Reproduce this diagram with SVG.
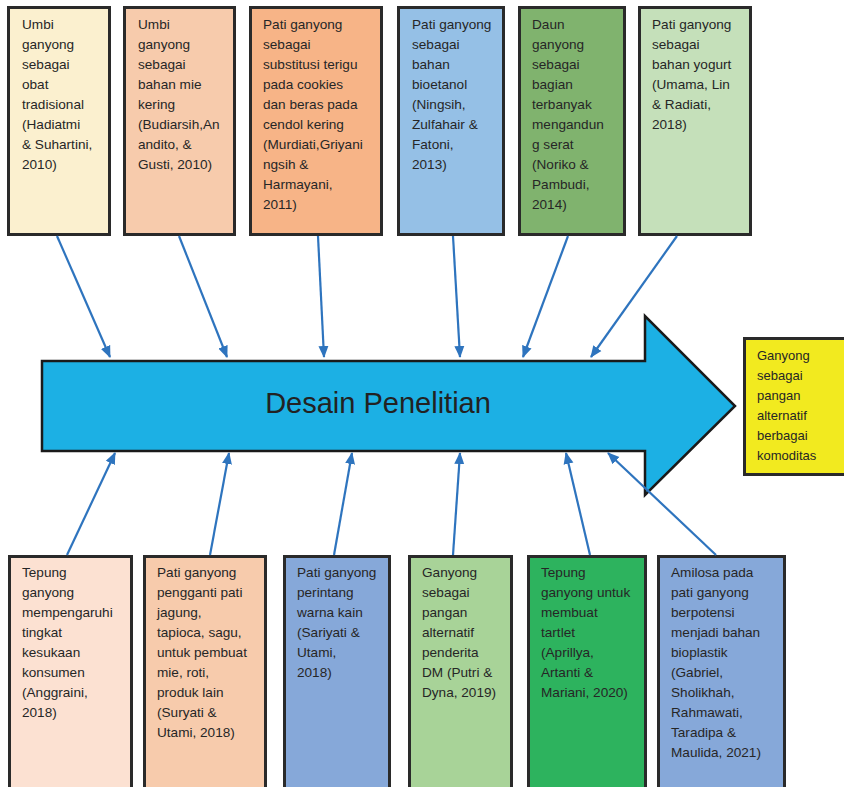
<svg xmlns="http://www.w3.org/2000/svg" width="844" height="787" viewBox="0 0 844 787">
<defs>
<marker id="ah" markerUnits="userSpaceOnUse" markerWidth="12" markerHeight="12" viewBox="0 0 12 12" refX="11" refY="6" orient="auto">
<path d="M0,1 L12,6 L0,11 Z" fill="#2E74BE"/>
</marker>
<style>
.box{stroke:#2a2a2a;stroke-width:3}
.t{font-family:"Liberation Sans",Arial,sans-serif;font-size:13.6px;fill:#262626}
.ty{font-family:"Liberation Sans",Arial,sans-serif;font-size:13px;fill:#262626}
.c{stroke:#2E74BE;stroke-width:2.2;fill:none;marker-end:url(#ah)}
</style>
</defs>
<rect width="844" height="787" fill="#ffffff"/>

<g id="main-arrow">
<path d="M42,361 L645,361 L645,316 L735,406 L645,495 L645,451 L42,451 Z" fill="#1CB0E4" stroke="#1a1a1a" stroke-width="2.5" stroke-linejoin="miter"/>
<text x="378" y="413" text-anchor="middle" font-family="'Liberation Sans',Arial,sans-serif" font-size="29" fill="#222222">Desain Penelitian</text>
</g>

<g id="result">
<rect class="box" x="744.5" y="338.5" width="110" height="136" fill="#F2EA1F"/>
<text class="ty" x="757" y="360">Ganyong</text>
<text class="ty" x="757" y="380">sebagai</text>
<text class="ty" x="757" y="400">pangan</text>
<text class="ty" x="757" y="420">alternatif</text>
<text class="ty" x="757" y="440">berbagai</text>
<text class="ty" x="757" y="460">komoditas</text>
</g>

<g id="top1">
<rect class="box" x="8.5" y="7.5" width="101" height="227" fill="#FBF0CF"/>
<text class="t" x="22" y="29">Umbi</text>
<text class="t" x="22" y="49">ganyong</text>
<text class="t" x="22" y="69">sebagai</text>
<text class="t" x="22" y="89">obat</text>
<text class="t" x="22" y="109">tradisional</text>
<text class="t" x="22" y="129">(Hadiatmi</text>
<text class="t" x="22" y="149">&amp; Suhartini,</text>
<text class="t" x="22" y="169">2010)</text>
</g>

<g id="top2">
<rect class="box" x="124.5" y="7.5" width="110" height="227" fill="#F7CBAC"/>
<text class="t" x="138" y="29">Umbi</text>
<text class="t" x="138" y="49">ganyong</text>
<text class="t" x="138" y="69">sebagai</text>
<text class="t" x="138" y="89">bahan mie</text>
<text class="t" x="138" y="109">kering</text>
<text class="t" x="138" y="129">(Budiarsih,An</text>
<text class="t" x="138" y="149">andito, &amp;</text>
<text class="t" x="138" y="169">Gusti, 2010)</text>
</g>

<g id="top3">
<rect class="box" x="250.5" y="7.5" width="131" height="227" fill="#F7B487"/>
<text class="t" x="263" y="29">Pati ganyong</text>
<text class="t" x="263" y="49">sebagai</text>
<text class="t" x="263" y="69">substitusi terigu</text>
<text class="t" x="263" y="89">pada cookies</text>
<text class="t" x="263" y="109">dan beras pada</text>
<text class="t" x="263" y="129">cendol kering</text>
<text class="t" x="263" y="149">(Murdiati,Griyani</text>
<text class="t" x="263" y="169">ngsih &amp;</text>
<text class="t" x="263" y="189">Harmayani,</text>
<text class="t" x="263" y="209">2011)</text>
</g>

<g id="top4">
<rect class="box" x="398.5" y="7.5" width="105" height="227" fill="#95C0E6"/>
<text class="t" x="412" y="29">Pati ganyong</text>
<text class="t" x="412" y="49">sebagai</text>
<text class="t" x="412" y="69">bahan</text>
<text class="t" x="412" y="89">bioetanol</text>
<text class="t" x="412" y="109">(Ningsih,</text>
<text class="t" x="412" y="129">Zulfahair &amp;</text>
<text class="t" x="412" y="149">Fatoni,</text>
<text class="t" x="412" y="169">2013)</text>
</g>

<g id="top5">
<rect class="box" x="519.5" y="7.5" width="105" height="227" fill="#80B36E"/>
<text class="t" x="532" y="29">Daun</text>
<text class="t" x="532" y="49">ganyong</text>
<text class="t" x="532" y="69">sebagai</text>
<text class="t" x="532" y="89">bagian</text>
<text class="t" x="532" y="109">terbanyak</text>
<text class="t" x="532" y="129">mengandun</text>
<text class="t" x="532" y="149">g serat</text>
<text class="t" x="532" y="169">(Noriko &amp;</text>
<text class="t" x="532" y="189">Pambudi,</text>
<text class="t" x="532" y="209">2014)</text>
</g>

<g id="top6">
<rect class="box" x="639.5" y="7.5" width="111" height="227" fill="#C5E0BA"/>
<text class="t" x="652" y="29">Pati ganyong</text>
<text class="t" x="652" y="49">sebagai</text>
<text class="t" x="652" y="69">bahan yogurt</text>
<text class="t" x="652" y="89">(Umama, Lin</text>
<text class="t" x="652" y="109">&amp; Radiati,</text>
<text class="t" x="652" y="129">2018)</text>
</g>

<g id="bottom1">
<rect class="box" x="9.5" y="556.5" width="122" height="240" fill="#FCE1D2"/>
<text class="t" x="22" y="577">Tepung</text>
<text class="t" x="22" y="597">ganyong</text>
<text class="t" x="22" y="617">mempengaruhi</text>
<text class="t" x="22" y="637">tingkat</text>
<text class="t" x="22" y="657">kesukaan</text>
<text class="t" x="22" y="677">konsumen</text>
<text class="t" x="22" y="697">(Anggraini,</text>
<text class="t" x="22" y="717">2018)</text>
</g>

<g id="bottom2">
<rect class="box" x="144.5" y="556.5" width="121" height="240" fill="#F7CBAC"/>
<text class="t" x="157" y="577">Pati ganyong</text>
<text class="t" x="157" y="597">pengganti pati</text>
<text class="t" x="157" y="617">jagung,</text>
<text class="t" x="157" y="637">tapioca, sagu,</text>
<text class="t" x="157" y="657">untuk pembuat</text>
<text class="t" x="157" y="677">mie, roti,</text>
<text class="t" x="157" y="697">produk lain</text>
<text class="t" x="157" y="717">(Suryati &amp;</text>
<text class="t" x="157" y="737">Utami, 2018)</text>
</g>

<g id="bottom3">
<rect class="box" x="284.5" y="556.5" width="105" height="240" fill="#86A8D9"/>
<text class="t" x="297" y="577">Pati ganyong</text>
<text class="t" x="297" y="597">perintang</text>
<text class="t" x="297" y="617">warna kain</text>
<text class="t" x="297" y="637">(Sariyati &amp;</text>
<text class="t" x="297" y="657">Utami,</text>
<text class="t" x="297" y="677">2018)</text>
</g>

<g id="bottom4">
<rect class="box" x="409.5" y="556.5" width="102" height="240" fill="#A8D398"/>
<text class="t" x="422" y="577">Ganyong</text>
<text class="t" x="422" y="597">sebagai</text>
<text class="t" x="422" y="617">pangan</text>
<text class="t" x="422" y="637">alternatif</text>
<text class="t" x="422" y="657">penderita</text>
<text class="t" x="422" y="677">DM (Putri &amp;</text>
<text class="t" x="422" y="697">Dyna, 2019)</text>
</g>

<g id="bottom5">
<rect class="box" x="528.5" y="556.5" width="117" height="240" fill="#2DB35E"/>
<text class="t" x="541" y="577">Tepung</text>
<text class="t" x="541" y="597">ganyong untuk</text>
<text class="t" x="541" y="617">membuat</text>
<text class="t" x="541" y="637">tartlet</text>
<text class="t" x="541" y="657">(Aprillya,</text>
<text class="t" x="541" y="677">Artanti &amp;</text>
<text class="t" x="541" y="697">Mariani, 2020)</text>
</g>

<g id="bottom6">
<rect class="box" x="658.5" y="556.5" width="126" height="240" fill="#86A8D9"/>
<text class="t" x="671" y="577">Amilosa pada</text>
<text class="t" x="671" y="597">pati ganyong</text>
<text class="t" x="671" y="617">berpotensi</text>
<text class="t" x="671" y="637">menjadi bahan</text>
<text class="t" x="671" y="657">bioplastik</text>
<text class="t" x="671" y="677">(Gabriel,</text>
<text class="t" x="671" y="697">Sholikhah,</text>
<text class="t" x="671" y="717">Rahmawati,</text>
<text class="t" x="671" y="737">Taradipa &amp;</text>
<text class="t" x="671" y="757">Maulida, 2021)</text>
</g>

<g id="connectors">
<line class="c" x1="57" y1="236" x2="110" y2="357"/>
<line class="c" x1="179" y1="236" x2="227" y2="357"/>
<line class="c" x1="318" y1="236" x2="324" y2="357"/>
<line class="c" x1="453" y1="236" x2="460" y2="357"/>
<line class="c" x1="568" y1="236" x2="523" y2="357"/>
<line class="c" x1="677" y1="236" x2="591" y2="357"/>
<line class="c" x1="67" y1="555" x2="115" y2="453"/>
<line class="c" x1="210" y1="555" x2="229" y2="453"/>
<line class="c" x1="334" y1="555" x2="352" y2="453"/>
<line class="c" x1="453" y1="555" x2="460" y2="453"/>
<line class="c" x1="590" y1="555" x2="566" y2="453"/>
<line class="c" x1="716" y1="555" x2="608" y2="453"/>
</g>
</svg>
